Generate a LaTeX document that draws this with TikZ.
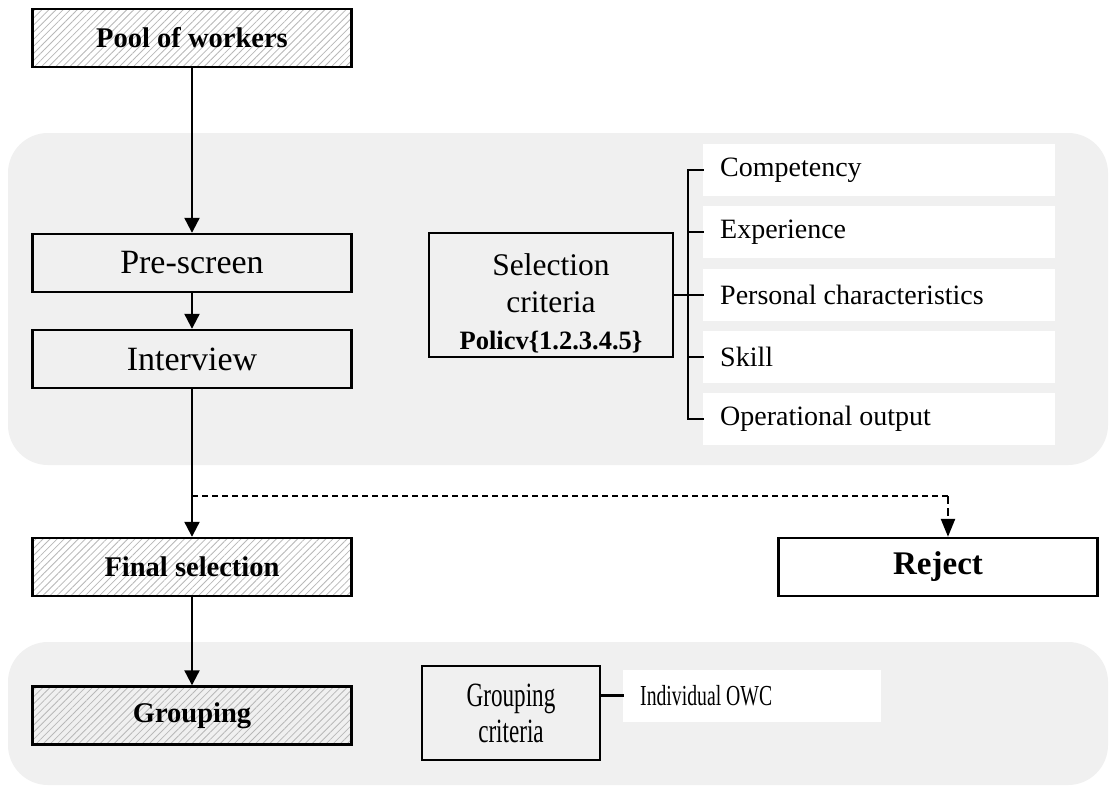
\documentclass[tikz,border=0pt]{standalone}
\usepackage{fontspec}
\setmainfont{Liberation Serif}
\newfontfamily\narrowfont[FakeStretch=0.68]{Liberation Serif}
\usepackage{xcolor}
\definecolor{PanelGrey}{HTML}{F0F0F0}
\definecolor{HatchGrey}{HTML}{B8B8B8}
\usepackage{tikz}
\usetikzlibrary{arrows.meta,patterns.meta,positioning}
\newcommand\BoxWidth{319pt}
\newcommand\Height{58pt}
\newcommand\LeftX{192}
\newcommand\ItemX{703}
\newcommand\ItemHeight{52pt}
\newcommand\Spine{688}
\tikzstyle{stage}=[rectangle,draw=black,line width=2.4pt,text centered,
                     minimum height=\Height,minimum width=\BoxWidth,
                     font=\fontsize{34}{38}\selectfont]
\tikzstyle{hatched}=[stage,pattern={Lines[angle=45,distance=5pt,line width=0.8pt]},
                     pattern color=HatchGrey,font=\bfseries\fontsize{28.5}{32}\selectfont]
\tikzstyle{criteria}=[rectangle,draw=black,line width=2.4pt,align=center,inner sep=0pt]
\tikzstyle{listitem}=[rectangle,fill=white,anchor=west,minimum height=\ItemHeight,
                     text width=318pt,inner xsep=17pt,align=flush left,
                     font=\fontsize{28}{30}\selectfont]
\tikzstyle{flow}=[line width=2.2pt,-{Triangle[width=15pt,length=15pt]}]
\tikzstyle{branch}=[line width=2.4pt,line cap=rect]
\tikzstyle{panel}=[fill=PanelGrey,rounded corners=40pt]

\begin{document}
\begin{tikzpicture}[x=1pt,y=-1pt]
      \fill[white] (0,0) rectangle (1109,787);
      \useasboundingbox (0,0) rectangle (1109,787);
      \fill[panel] (8,133) rectangle (1108,465);
      \fill[panel] (8,642) rectangle (1108,785);

      \node[hatched] (pool) at (\LeftX,38) {Pool of workers};
      \node[stage] (prescreen) at (\LeftX,263) {Pre-screen};
      \node[stage] (interview) at (\LeftX,359) {Interview};
      \node[hatched] (final) at (\LeftX,567) {Final selection};
      \node[hatched] (grouping) at (\LeftX,715.5) {Grouping};
      \node[stage,fill=white,font=\bfseries\fontsize{33}{36}\selectfont] (reject) at (938,567) {Reject};

      \node[criteria,minimum width=244pt,minimum height=124pt,font=\fontsize{31.5}{37}\selectfont] (selcrit) at (551,295)
            {\rule{0pt}{38pt}Selection\\criteria\\{\bfseries\fontsize{26.5}{33}\selectfont Policv\{1.2.3.4.5\}}};
      \node[criteria,minimum width=178pt,minimum height=94pt,font=\narrowfont\fontsize{34}{36}\selectfont] (grpcrit) at (511,713)
            {Grouping\\criteria};

      \node[listitem] (competency) at (\ItemX,170) {Competency};
      \node[listitem] (experience) at (\ItemX,232) {Experience};
      \node[listitem] (personal) at (\ItemX,295) {Personal characteristics};
      \node[listitem] (skill) at (\ItemX,357) {Skill};
      \node[listitem] (output) at (\ItemX,419) {Operational output};
      \node[listitem,text width=224pt,font=\narrowfont\fontsize{29}{30}\selectfont] (owc) at (623,695.5) {Individual OWC};

      \draw[flow] (pool) -- (prescreen);
      \draw[flow] (prescreen) -- (interview);
      \draw[flow] (interview) -- (final);
      \draw[flow] (final) -- (grouping);

      \coordinate (split) at (\LeftX,496);
      \coordinate (turn) at (948,496);
      \draw[line width=1.3pt,dash pattern=on 6pt off 4pt] (split) -- (turn);
      \draw[line width=2.4pt,dash pattern=on 8pt off 4pt,-{Triangle[width=14pt,length=18pt]}] (turn) -- (turn |- reject.north);

      \coordinate (spine) at (\Spine,295);
      \draw[branch] (selcrit.east) -- (spine);
      \draw[branch] (spine |- competency.west) -- (spine |- output.west);
      \foreach \n in {competency,experience,personal,skill,output}
            \draw[branch] (spine |- \n.west) -- (\n.west);
      \draw[branch] (grpcrit.east |- owc.west) -- (owc.west);
\end{tikzpicture}
\end{document}
